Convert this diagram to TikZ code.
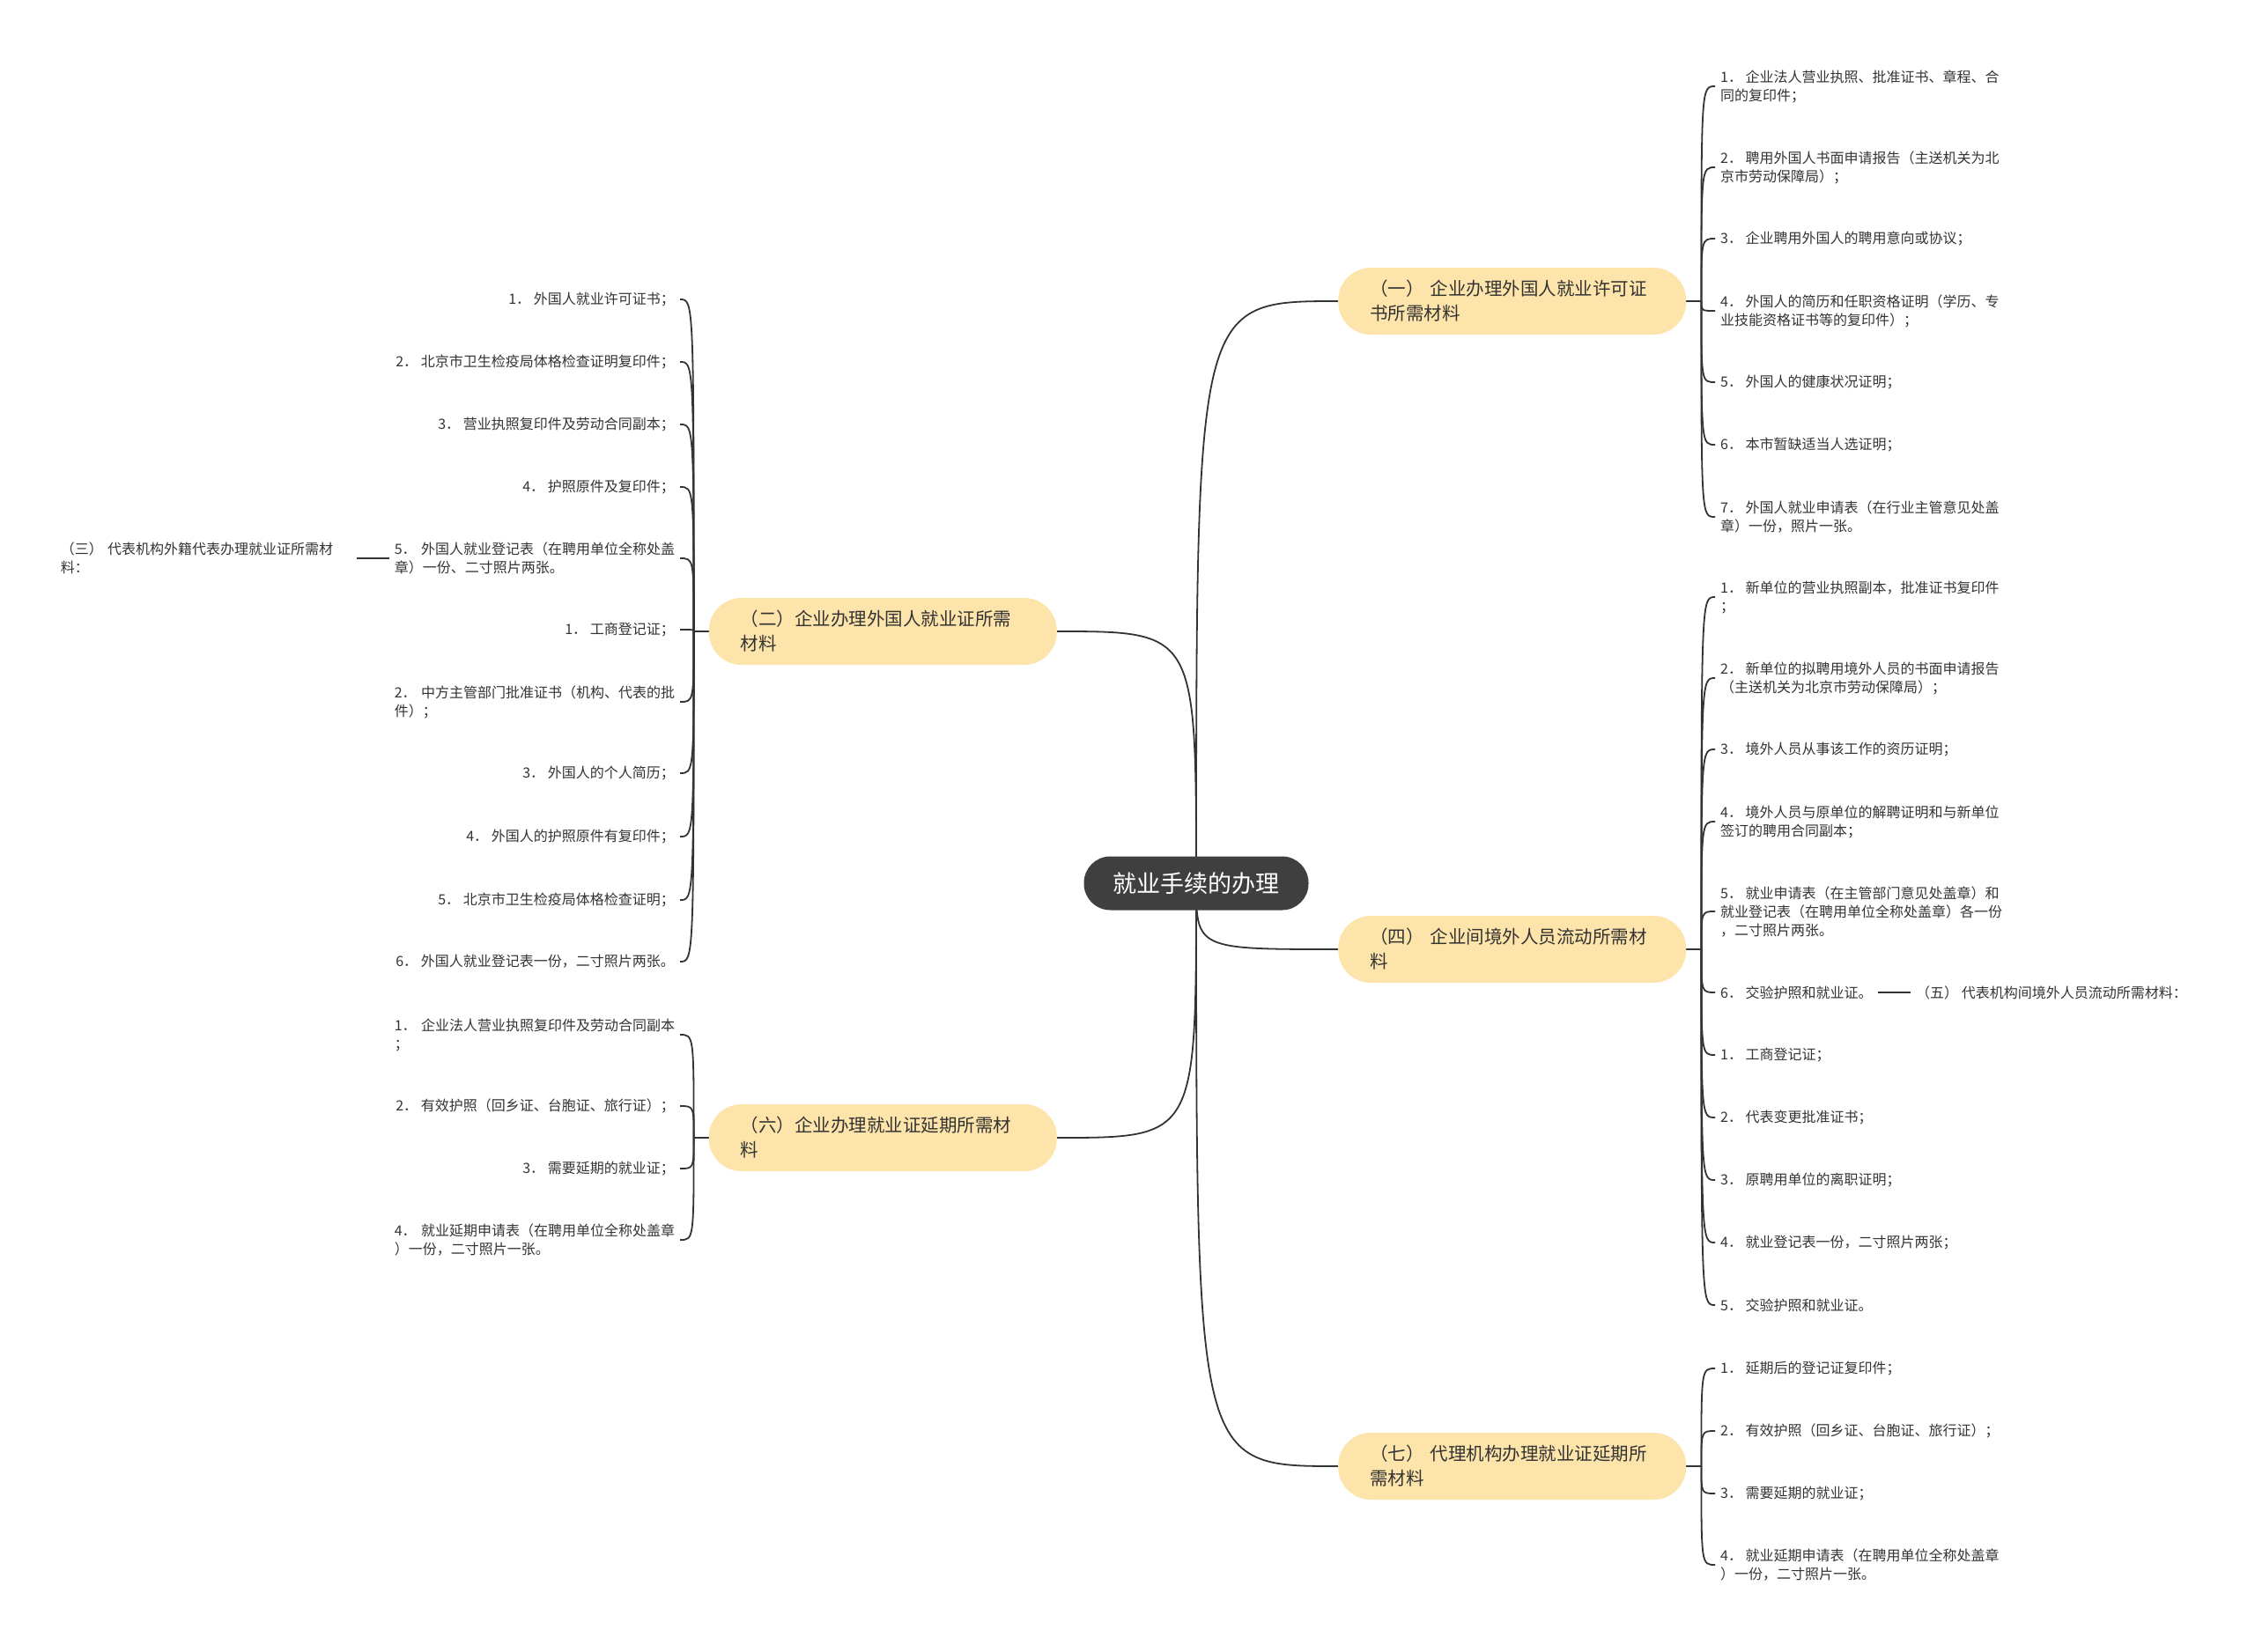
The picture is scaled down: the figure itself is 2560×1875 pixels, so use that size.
\documentclass[tikz,border=0pt]{standalone}
\usepackage{fontspec}
\setmainfont{Noto Sans CJK SC}
\usetikzlibrary{positioning,backgrounds}

\definecolor{rootgray}{HTML}{3F3F3F}
\definecolor{topicfill}{HTML}{FDE4AA}
\definecolor{inkgray}{HTML}{333333}

\begin{document}
\begin{tikzpicture}[
  x=1pt, y=-1pt,
  font=\fontsize{16}{21}\selectfont,
  root/.style={rectangle, rounded corners=30pt, fill=rootgray, text=white,
               minimum width=255pt, minimum height=61pt,
               font=\fontsize{27}{32}\selectfont},
  topic/.style={rectangle, rounded corners=37pt, fill=topicfill, text=inkgray,
                text width=323pt, align=left, inner xsep=36pt, inner ysep=8pt,
                minimum height=76pt, font=\fontsize{20.5}{28}\selectfont},
  leafR/.style={anchor=west, align=left, inner xsep=6pt, inner ysep=3pt, text=inkgray},
  leafL/.style={anchor=east, align=left, inner xsep=6pt, inner ysep=3pt, text=inkgray},
  wrapL/.style={leafL, text width=318pt},
  link/.style={draw=inkgray, line width=1.8pt},
]
\useasboundingbox (0,0) rectangle (2560,1875);

% centre and the five topics
\node[root]               (root) at (1358,1003) {就业手续的办理};
\node[topic, anchor=west] (t1)   at (1519,342)  {（一）\ 企业办理外国人就业许可证\\书所需材料};
\node[topic, anchor=west] (t4)   at (1519,1078) {（四）\ 企业间境外人员流动所需材\\料};
\node[topic, anchor=west] (t7)   at (1519,1665) {（七）\ 代理机构办理就业证延期所\\需材料};
\node[topic, anchor=east] (t2)   at (1200,717)  {（二）企业办理外国人就业证所需\\材料};
\node[topic, anchor=east] (t6)   at (1200,1292) {（六）企业办理就业证延期所需材\\料};

\coordinate[right=17pt of t1.east] (j1);
\coordinate[right=17pt of t4.east] (j4);
\coordinate[right=17pt of t7.east] (j7);
\coordinate[left=17pt of t2.west]  (j2);
\coordinate[left=17pt of t6.west]  (j6);

% (一)
\node[leafR] (a1) at (1947,98)  {1．~企业法人营业执照、批准证书、章程、合\\同的复印件；};
\node[leafR] (a2) at (1947,190) {2．~聘用外国人书面申请报告（主送机关为北\\京市劳动保障局）；};
\node[leafR] (a3) at (1947,271) {3．~企业聘用外国人的聘用意向或协议；};
\node[leafR] (a4) at (1947,353) {4．~外国人的简历和任职资格证明（学历、专\\业技能资格证书等的复印件）；};
\node[leafR] (a5) at (1947,434) {5．~外国人的健康状况证明；};
\node[leafR] (a6) at (1947,505) {6．~本市暂缺适当人选证明；};
\node[leafR] (a7) at (1947,587) {7．~外国人就业申请表（在行业主管意见处盖\\章）一份，照片一张。};

% (四)
\node[leafR] (b1)  at (1947,678)  {1．~新单位的营业执照副本，批准证书复印件\\；};
\node[leafR] (b2)  at (1947,770)  {2．~新单位的拟聘用境外人员的书面申请报告\\（主送机关为北京市劳动保障局）；};
\node[leafR] (b3)  at (1947,851)  {3．~境外人员从事该工作的资历证明；};
\node[leafR] (b4)  at (1947,933)  {4．~境外人员与原单位的解聘证明和与新单位\\签订的聘用合同副本；};
\node[leafR] (b5)  at (1947,1035) {5．~就业申请表（在主管部门意见处盖章）和\\就业登记表（在聘用单位全称处盖章）各一份\\，二寸照片两张。};
\node[leafR] (b6)  at (1947,1127) {6．~交验护照和就业证。};
\node[leafR] (wu)  at (2169,1127) {（五）\ 代表机构间境外人员流动所需材料：};
\node[leafR] (b7)  at (1947,1198) {1．~工商登记证；};
\node[leafR] (b8)  at (1947,1269) {2．~代表变更批准证书；};
\node[leafR] (b9)  at (1947,1340) {3．~原聘用单位的离职证明；};
\node[leafR] (b10) at (1947,1411) {4．~就业登记表一份，二寸照片两张；};
\node[leafR] (b11) at (1947,1482) {5．~交验护照和就业证。};

% (七)
\node[leafR] (c1) at (1947,1554) {1．~延期后的登记证复印件；};
\node[leafR] (c2) at (1947,1625) {2．~有效护照（回乡证、台胞证、旅行证）；};
\node[leafR] (c3) at (1947,1696) {3．~需要延期的就业证；};
\node[leafR] (c4) at (1947,1777) {4．~就业延期申请表（在聘用单位全称处盖章\\）一份，二寸照片一张。};

% (二)
\node[leafL] (d1)  at (772,340)  {1．~外国人就业许可证书；};
\node[leafL] (d2)  at (772,411)  {2．~北京市卫生检疫局体格检查证明复印件；};
\node[leafL] (d3)  at (772,482)  {3．~营业执照复印件及劳动合同副本；};
\node[leafL] (d4)  at (772,553)  {4．~护照原件及复印件；};
\node[wrapL] (d5)  at (772,634)  {5．~外国人就业登记表（在聘用单位全称处盖\\章）一份、二寸照片两张。};
\node[leafL, text width=330pt] (san) at (405,634) {（三）\ 代表机构外籍代表办理就业证所需材\\料：};
\node[leafL] (d6)  at (772,715)  {1．~工商登记证；};
\node[wrapL] (d7)  at (772,797)  {2．~中方主管部门批准证书（机构、代表的批\\件）；};
\node[leafL] (d8)  at (772,878)  {3．~外国人的个人简历；};
\node[leafL] (d9)  at (772,950)  {4．~外国人的护照原件有复印件；};
\node[leafL] (d10) at (772,1022) {5．~北京市卫生检疫局体格检查证明；};
\node[leafL] (d11) at (772,1092) {6．~外国人就业登记表一份，二寸照片两张。};

% (六)
\node[wrapL] (e1) at (772,1175) {1．~企业法人营业执照复印件及劳动合同副本\\；};
\node[leafL] (e2) at (772,1256) {2．~有效护照（回乡证、台胞证、旅行证）；};
\node[leafL] (e3) at (772,1327) {3．~需要延期的就业证；};
\node[wrapL] (e4) at (772,1408) {4．~就业延期申请表（在聘用单位全称处盖章\\）一份，二寸照片一张。};

\begin{scope}[on background layer]
  \foreach \t in {t1,t4,t7}
    \draw[link] (root.center) .. controls (root.center |- \t.west) .. (\t.west);
  \foreach \t in {t2,t6}
    \draw[link] (root.center) .. controls (root.center |- \t.east) .. (\t.east);

  \draw[link] (t1.east) -- (j1);
  \draw[link] (t4.east) -- (j4);
  \draw[link] (t7.east) -- (j7);
  \draw[link] (t2.west) -- (j2);
  \draw[link] (t6.west) -- (j6);

  \foreach \n in {a1,a2,a3,a4,a5,a6,a7}
    \draw[link] (j1) .. controls (j1 |- \n.west) .. (\n.west);
  \foreach \n in {b1,b2,b3,b4,b5,b6,b7,b8,b9,b10,b11}
    \draw[link] (j4) .. controls (j4 |- \n.west) .. (\n.west);
  \foreach \n in {c1,c2,c3,c4}
    \draw[link] (j7) .. controls (j7 |- \n.west) .. (\n.west);
  \foreach \n in {d1,d2,d3,d4,d5,d6,d7,d8,d9,d10,d11}
    \draw[link] (j2) .. controls (j2 |- \n.east) .. (\n.east);
  \foreach \n in {e1,e2,e3,e4}
    \draw[link] (j6) .. controls (j6 |- \n.east) .. (\n.east);

  \draw[link] (b6.east) -- (wu.west);
  \draw[link] (san.east) -- (d5.west);
\end{scope}

\end{tikzpicture}
\end{document}
